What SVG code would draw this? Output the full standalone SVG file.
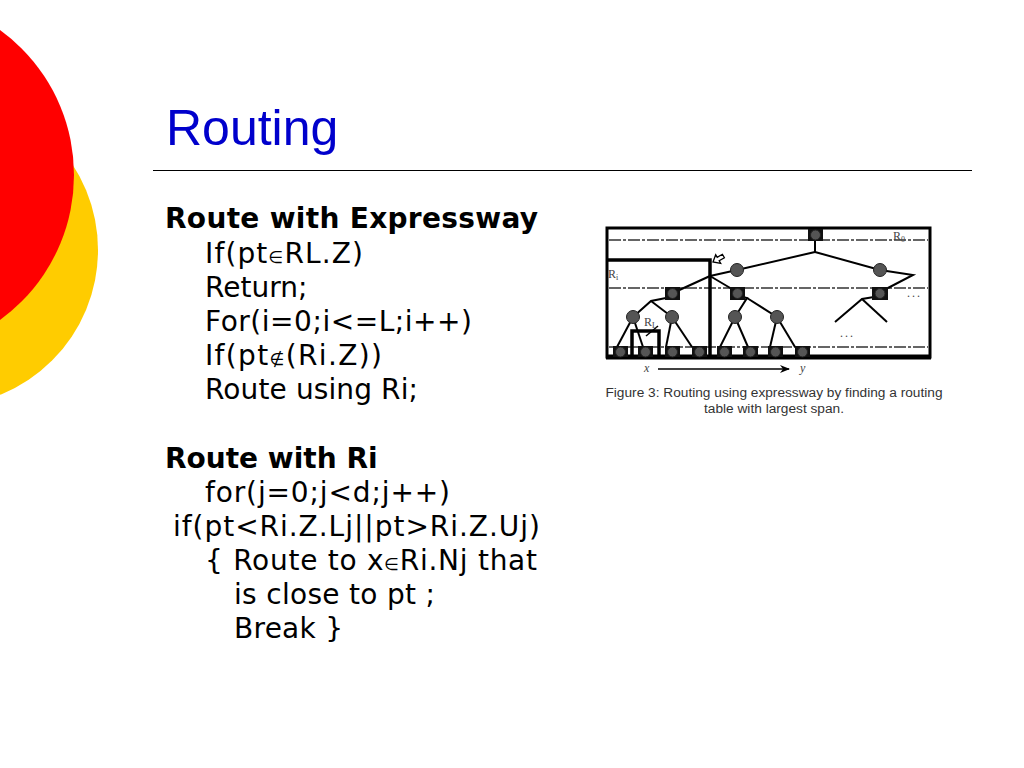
<svg xmlns="http://www.w3.org/2000/svg" width="1024" height="768" viewBox="0 0 1024 768">
<defs>
<style>
.body{font-family:"DejaVu Sans",Verdana,sans-serif;font-size:28px;fill:#000}
.bold{font-weight:bold}
.sym{font-size:17px}
.edge{stroke:#000;stroke-width:2;fill:none}
.dash{stroke:#333;stroke-width:1.6;stroke-dasharray:12 2 3 2;fill:none}
.thick{stroke:#000;stroke-width:3.5;fill:none}
.gc{fill:#555;stroke:#222;stroke-width:1}
.sq{fill:#111}
.lab{font-family:"Liberation Serif","Times New Roman",serif;font-size:12px;fill:#444}
.cap{font-family:"Liberation Sans",Arial,sans-serif;font-size:13.7px;fill:#333;text-anchor:middle}
</style>
<marker id="ah" markerWidth="10" markerHeight="8" refX="9" refY="4" orient="auto" markerUnits="userSpaceOnUse">
<path d="M0,0 L10,4 L0,8 L3,4 Z" fill="#000"/>
</marker>
</defs>
<rect width="1024" height="768" fill="#fff"/>
<g id="decor">
<circle cx="-58" cy="250" r="156" fill="#FFCC00"/>
<circle cx="-105" cy="175" r="179" fill="#FF0000"/>
</g>
<g id="title">
<text x="166" y="145" font-family="Liberation Sans, Arial, sans-serif" font-size="50" fill="#0000CC">Routing</text>
<line x1="153" y1="170.5" x2="972" y2="170.5" stroke="#000" stroke-width="1.2"/>
</g>
<g id="code">
<text class="body bold" x="165" y="228" textLength="373" lengthAdjust="spacing">Route with Expressway</text>
<text class="body" x="205" y="263" textLength="158" lengthAdjust="spacing">If(pt<tspan class="sym">∈</tspan>RL.Z)</text>
<text class="body" x="205" y="297">Return;</text>
<text class="body" x="205" y="331" textLength="267" lengthAdjust="spacing">For(i=0;i&lt;=L;i++)</text>
<text class="body" x="205" y="365" textLength="177" lengthAdjust="spacing">If(pt<tspan class="sym">∉</tspan>(Ri.Z))</text>
<text class="body" x="205" y="399" textLength="213" lengthAdjust="spacing">Route using Ri;</text>
<text class="body bold" x="165" y="468">Route with Ri</text>
<text class="body" x="205" y="502" textLength="245" lengthAdjust="spacing">for(j=0;j&lt;d;j++)</text>
<text class="body" x="173" y="536" textLength="367" lengthAdjust="spacing">if(pt&lt;Ri.Z.Lj||pt&gt;Ri.Z.Uj)</text>
<text class="body" x="205" y="570" textLength="332" lengthAdjust="spacing">{ Route to x<tspan class="sym">∈</tspan>Ri.Nj that</text>
<text class="body" x="234" y="604" textLength="201" lengthAdjust="spacing">is close to pt ;</text>
<text class="body" x="234" y="638" textLength="109" lengthAdjust="spacing">Break }</text>
</g>
<g id="figure">
<rect x="607" y="228" width="323" height="129" fill="#fff" stroke="#000" stroke-width="3"/>
<line x1="606" y1="357" x2="931" y2="357" stroke="#000" stroke-width="5"/>
<g id="levels">
<line class="dash" x1="609" y1="240" x2="928" y2="240"/>
<line class="dash" x1="609" y1="288" x2="928" y2="288"/>
<line class="dash" x1="609" y1="347" x2="928" y2="347"/>
</g>
<g id="connectors">
<polyline class="edge" points="815,241 815,252"/>
<polyline class="edge" points="815,252 737,270 710,276"/>
<polyline class="edge" points="815,252 880,270 913,275 886,289"/>
<line class="edge" x1="710" y1="276" x2="675" y2="292"/>
<line class="edge" x1="710" y1="276" x2="737" y2="292"/>
<polyline class="edge" points="666,298 651,301 633,317"/>
<line class="edge" x1="651" y1="301" x2="672" y2="317"/>
<polyline class="edge" points="740,296 747,298 735,317"/>
<line class="edge" x1="747" y1="298" x2="777" y2="317"/>
<polyline class="edge" points="874,297 862,299 835,322"/>
<line class="edge" x1="862" y1="299" x2="887" y2="322"/>
<line class="edge" x1="633" y1="317" x2="617" y2="347"/>
<line class="edge" x1="633" y1="317" x2="643" y2="347"/>
<line class="edge" x1="672" y1="317" x2="666" y2="347"/>
<line class="edge" x1="672" y1="317" x2="692" y2="347"/>
<line class="edge" x1="735" y1="317" x2="720" y2="347"/>
<line class="edge" x1="735" y1="317" x2="748" y2="347"/>
<line class="edge" x1="777" y1="317" x2="770" y2="347"/>
<line class="edge" x1="777" y1="317" x2="795" y2="347"/>
<line x1="658" y1="369" x2="789" y2="369" stroke="#000" stroke-width="1.6" marker-end="url(#ah)"/>
</g>
<g id="regions">
<polyline class="thick" points="607,260 710,260 710,357"/>
<polyline class="thick" points="632,357 632,331 659,331 659,357"/>
<line x1="646" y1="336" x2="658" y2="326" stroke="#000" stroke-width="1.5"/>
<polygon transform="translate(713,262) rotate(-30)" points="0,0 6,-5 6,-2 12,-2 12,2 6,2 6,5" fill="#fff" stroke="#000" stroke-width="1.3"/>
</g>
<g id="root"><rect class="sq" x="808" y="229" width="15" height="12"/><circle class="gc" cx="815.5" cy="235" r="5"/></g>
<g id="n-c1"><circle class="gc" cx="737" cy="270" r="6.5"/></g>
<g id="n-c2"><circle class="gc" cx="880" cy="270" r="6.5"/></g>
<g id="n-s1"><rect class="sq" x="665" y="287" width="15" height="13"/><circle class="gc" cx="672.5" cy="293.5" r="5"/></g>
<g id="n-s2"><rect class="sq" x="730" y="287" width="15" height="13"/><circle class="gc" cx="737.5" cy="293.5" r="5"/></g>
<g id="n-s3"><rect class="sq" x="872" y="287" width="16" height="13"/><circle class="gc" cx="880" cy="293.5" r="5"/></g>
<g id="n-c3"><circle class="gc" cx="633" cy="317" r="6.5"/></g>
<g id="n-c4"><circle class="gc" cx="672" cy="317" r="6.5"/></g>
<g id="n-c5"><circle class="gc" cx="735" cy="317" r="6.5"/></g>
<g id="n-c6"><circle class="gc" cx="777" cy="317" r="6.5"/></g>
<g id="leaves">
<g id="l1"><rect class="sq" x="613" y="346" width="15" height="11"/><circle class="gc" cx="620.5" cy="352" r="5"/></g>
<g id="l2"><rect class="sq" x="638" y="346" width="15" height="11"/><circle class="gc" cx="645.5" cy="352" r="5"/></g>
<g id="l3"><rect class="sq" x="665" y="346" width="15" height="11"/><circle class="gc" cx="672.5" cy="352" r="5"/></g>
<g id="l4"><rect class="sq" x="692" y="346" width="15" height="11"/><circle class="gc" cx="699.5" cy="352" r="5"/></g>
<g id="l5"><rect class="sq" x="717" y="346" width="15" height="11"/><circle class="gc" cx="724.5" cy="352" r="5"/></g>
<g id="l6"><rect class="sq" x="743" y="346" width="15" height="11"/><circle class="gc" cx="750.5" cy="352" r="5"/></g>
<g id="l7"><rect class="sq" x="768" y="346" width="15" height="11"/><circle class="gc" cx="775.5" cy="352" r="5"/></g>
<g id="l8"><rect class="sq" x="795" y="346" width="15" height="11"/><circle class="gc" cx="802.5" cy="352" r="5"/></g>
</g>
<g id="labels">
<text class="lab" x="893" y="240">R<tspan font-size="8" dy="2">0</tspan></text>
<text class="lab" x="608" y="278">R<tspan font-size="8" dy="2">i</tspan></text>
<text class="lab" x="644" y="326">R<tspan font-size="8" dy="2">L</tspan></text>
<text class="lab" x="907" y="297" letter-spacing="2">...</text>
<text class="lab" x="840" y="337" letter-spacing="2">...</text>
<text class="lab" x="644" y="372" font-style="italic" font-size="13">x</text>
<text class="lab" x="800" y="372" font-style="italic" font-size="13">y</text>
</g>
<text class="cap" x="774" y="397">Figure 3: Routing using expressway by finding a routing</text>
<text class="cap" x="774" y="413">table with largest span.</text>
</g>
</svg>
